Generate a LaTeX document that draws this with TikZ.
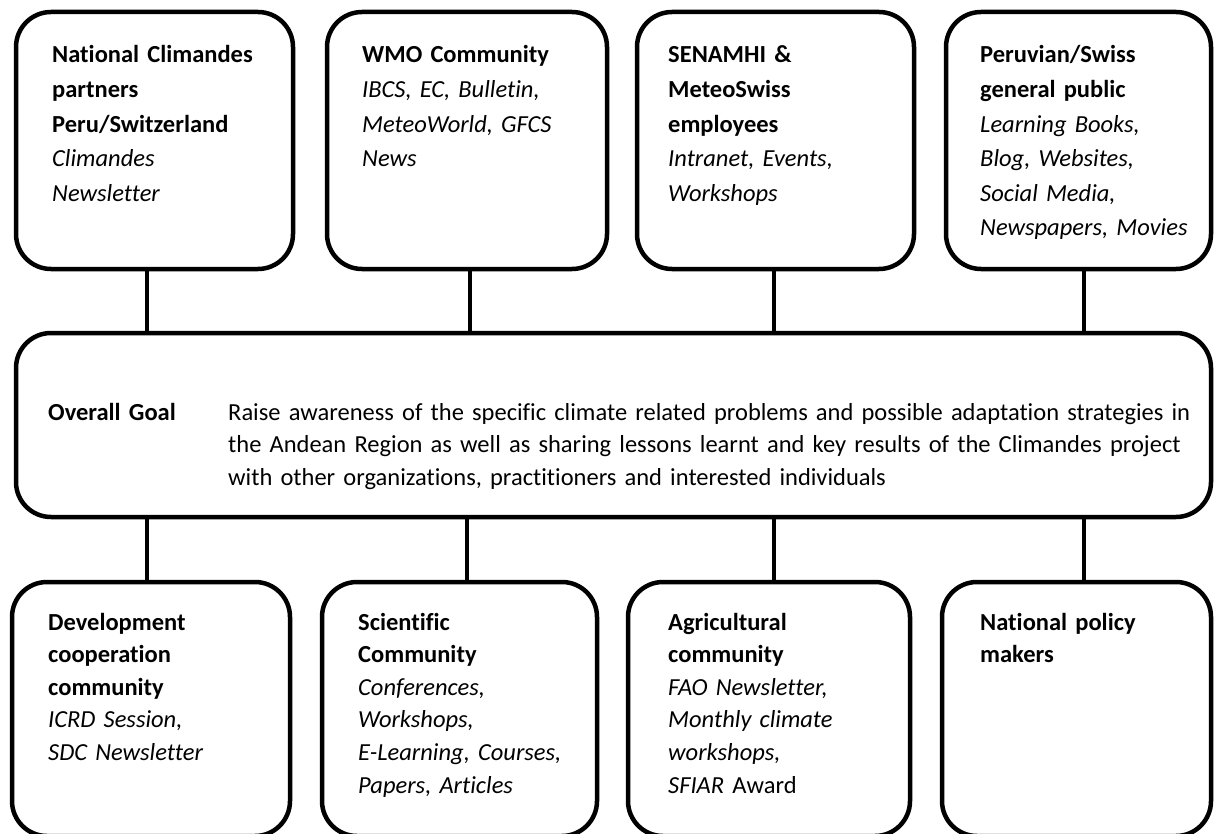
\documentclass[tikz,border=0pt]{standalone}
\usepackage{fontspec}
\setmainfont{Carlito}[Ligatures=NoCommon]
\pgfdeclarelayer{edgelayer}
\pgfdeclarelayer{nodelayer}
\pgfsetlayers{edgelayer,nodelayer,main}
\tikzstyle{group}=[draw=black, line width=4.5pt, rounded corners=35pt, fill=white, inner sep=0pt]
\tikzstyle{link}=[draw=black, line width=4pt]
\tikzstyle{listing}=[anchor=base west, inner sep=0pt, align=left, text width=270pt, font=\fontsize{24.5pt}{34.6pt}\selectfont]
\tikzstyle{tightlisting}=[style=listing, font=\fontsize{24.5pt}{32.6pt}\selectfont]

\begin{document}
\begin{tikzpicture}[x=1pt,y=-1pt]
	\useasboundingbox (0,0) rectangle (1214,834);
	\begin{pgfonlayer}{nodelayer}
		\node [style=group, minimum width=277pt, minimum height=257pt] (0) at (154.5, 140.5) {};
		\node [style=group, minimum width=280pt, minimum height=257pt] (1) at (467, 140.5) {};
		\node [style=group, minimum width=277pt, minimum height=257pt] (2) at (775.5, 140.5) {};
		\node [style=group, minimum width=265pt, minimum height=257pt] (3) at (1078.5, 140.5) {};
		\node [style=group, minimum width=1195pt, minimum height=184pt] (4) at (613.5, 425) {};
		\node [style=group, minimum width=278pt, minimum height=254pt] (5) at (151, 709) {};
		\node [style=group, minimum width=275pt, minimum height=254pt] (6) at (459.5, 709) {};
		\node [style=group, minimum width=282pt, minimum height=254pt] (7) at (769, 709) {};
		\node [style=group, minimum width=269pt, minimum height=254pt] (8) at (1076.5, 709) {};

		\node [style=listing] (9) at (52, 63) {\textbf{National Climandes}\\\textbf{partners}\\\textbf{Peru/Switzerland}\\\textit{Climandes}\\\textit{Newsletter}};
		\node [style=listing] (10) at (362, 63) {\textbf{WMO Community}\\\textit{IBCS, EC, Bulletin,}\\\textit{MeteoWorld, GFCS}\\\textit{News}};
		\node [style=listing] (11) at (668, 63) {\textbf{SENAMHI \&}\\\textbf{MeteoSwiss}\\\textbf{employees}\\\textit{Intranet, Events,}\\\textit{Workshops}};
		\node [style=listing] (12) at (980, 63) {\textbf{Peruvian/Swiss}\\\textbf{general public}\\\textit{Learning Books,}\\\textit{Blog, Websites,}\\\textit{Social Media,}\\\textit{Newspapers, Movies}};
		\node [style=tightlisting] (13) at (48, 420) {\textbf{Overall Goal}};
		\node [style=tightlisting, text width=980pt] (14) at (228, 420) {Raise awareness of the specific climate related problems and possible adaptation strategies in\\the Andean Region as well as sharing lessons learnt and key results of the Climandes project\\with other organizations, practitioners and interested individuals};
		\node [style=tightlisting] (15) at (48, 630) {\textbf{Development}\\\textbf{cooperation}\\\textbf{community}\\\textit{ICRD Session,}\\\textit{SDC Newsletter}};
		\node [style=tightlisting] (16) at (358, 630) {\textbf{Scientific}\\\textbf{Community}\\\textit{Conferences,}\\\textit{Workshops,}\\\textit{E-Learning, Courses,}\\\textit{Papers, Articles}};
		\node [style=tightlisting] (17) at (668, 630) {\textbf{Agricultural}\\\textbf{community}\\\textit{FAO Newsletter,}\\\textit{Monthly climate}\\\textit{workshops,}\\\textit{SFIAR} Award};
		\node [style=tightlisting] (18) at (980, 630) {\textbf{National policy}\\\textbf{makers}};
	\end{pgfonlayer}
	\begin{pgfonlayer}{edgelayer}
		\draw [style=link] ([xshift=-7.5pt]0.south) -- ([xshift=-7.5pt]0.south |- 4.north);
		\draw [style=link] ([xshift=3pt]1.south) -- ([xshift=3pt]1.south |- 4.north);
		\draw [style=link] ([xshift=-1.5pt]2.south) -- ([xshift=-1.5pt]2.south |- 4.north);
		\draw [style=link] ([xshift=5.5pt]3.south) -- ([xshift=5.5pt]3.south |- 4.north);
		\draw [style=link] ([xshift=-4pt]5.north) -- ([xshift=-4pt]5.north |- 4.south);
		\draw [style=link] ([xshift=7.5pt]6.north) -- ([xshift=7.5pt]6.north |- 4.south);
		\draw [style=link] ([xshift=5pt]7.north) -- ([xshift=5pt]7.north |- 4.south);
		\draw [style=link] ([xshift=7.5pt]8.north) -- ([xshift=7.5pt]8.north |- 4.south);
	\end{pgfonlayer}
\end{tikzpicture}
\end{document}
